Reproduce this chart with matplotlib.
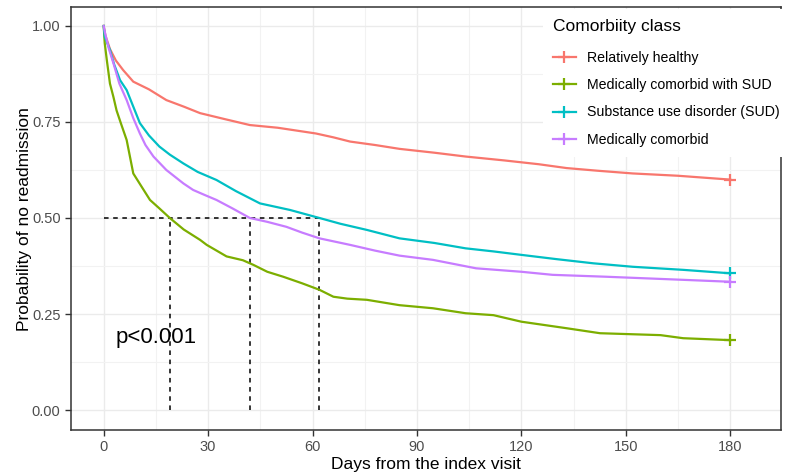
import numpy as np
import matplotlib
matplotlib.use("Agg")
import matplotlib.pyplot as plt
from matplotlib.lines import Line2D

plt.rcParams['font.family'] = ['Liberation Sans', 'DejaVu Sans']

# survival curves (days, probability of no readmission)
healthy_days = [0, 0.5, 1.8, 3.5, 5.6, 8.5, 13, 18, 23, 27.7, 35, 42, 50, 61, 66, 70.8, 78, 85, 95, 104, 115, 125, 133, 142, 152, 165, 180]
healthy_surv = [1.0, 0.975, 0.94, 0.91, 0.885, 0.855, 0.835, 0.807, 0.79, 0.773, 0.757, 0.742, 0.735, 0.72, 0.71, 0.699, 0.69, 0.68, 0.67, 0.66, 0.65, 0.64, 0.63, 0.623, 0.616, 0.61, 0.60]

medsud_days = [0, 0.3, 0.9, 1.8, 2.8, 3.7, 5, 6.6, 8.5, 11, 13.3, 16, 19, 23, 27.7, 29.6, 35.3, 40, 43, 47, 51.6, 57, 62, 66, 70, 75.6, 85, 94.6, 104, 112, 120, 133, 142.6, 160, 166.5, 180]
medsud_surv = [1.0, 0.955, 0.911, 0.85, 0.815, 0.78, 0.745, 0.703, 0.616, 0.58, 0.547, 0.525, 0.50, 0.47, 0.443, 0.43, 0.40, 0.39, 0.378, 0.36, 0.347, 0.33, 0.313, 0.295, 0.29, 0.287, 0.273, 0.265, 0.252, 0.247, 0.23, 0.213, 0.20, 0.195, 0.187, 0.182]

sud_days = [0, 0.3, 1.8, 3, 4.7, 6.6, 8.5, 10.4, 13, 16, 19, 22.9, 27, 32.4, 38, 44.9, 53.5, 62, 68, 75.6, 85, 95, 104, 112, 120, 130, 140.7, 152, 166.5, 180]
sud_surv = [1.0, 0.972, 0.9375, 0.9, 0.859, 0.833, 0.79, 0.747, 0.715, 0.686, 0.665, 0.642, 0.62, 0.599, 0.57, 0.538, 0.521, 0.50, 0.485, 0.469, 0.447, 0.435, 0.421, 0.413, 0.404, 0.393, 0.382, 0.373, 0.365, 0.356]

med_days = [0, 0.4, 1.5, 2.8, 4.5, 6.6, 8.5, 10.4, 12, 14.3, 18, 22.9, 25.7, 29, 32.4, 37, 42, 47, 52.5, 57, 62, 70.8, 78, 85, 94.6, 107, 120, 129, 144.5, 166.5, 180]
med_surv = [1.0, 0.981, 0.94, 0.903, 0.85, 0.807, 0.76, 0.72, 0.69, 0.66, 0.625, 0.59, 0.573, 0.56, 0.547, 0.525, 0.50, 0.49, 0.477, 0.462, 0.447, 0.43, 0.415, 0.402, 0.391, 0.369, 0.36, 0.352, 0.347, 0.339, 0.334]

labels = ["Relatively healthy", "Medically comorbid with SUD",
          "Substance use disorder (SUD)", "Medically comorbid"]
colors = ["#F8766D", "#7CAE00", "#00BFC4", "#C77CFF"]
median_days = [19, 42, 62]

fig = plt.figure(figsize=(7.86, 4.73), dpi=100)
ax = fig.add_axes([0.0903, 0.0909, 0.9033, 0.894])

curves = [(healthy_days, healthy_surv), (medsud_days, medsud_surv),
          (sud_days, sud_surv), (med_days, med_surv)]
for (d, s), c in zip(curves, colors):
    ax.plot(d, s, color=c, lw=1.6, zorder=3)
    ax.plot(d[-1], s[-1], marker='+', ms=9, mew=1.6, color=c, zorder=4)

# median survival lines
ax.plot([0, max(median_days)], [0.5, 0.5], ls=(0, (3, 3)), color='black', lw=1.1, zorder=2)
for m in median_days:
    ax.plot([m, m], [0, 0.5], ls=(0, (3, 3)), color='black', lw=1.1, zorder=2)

ax.text(3.5, 0.19, "p<0.001", fontsize=16, va='center', ha='left')

ax.set_xlim(-9.4, 194.6)
ax.set_ylim(-0.052, 1.049)
ax.set_xticks([0, 30, 60, 90, 120, 150, 180])
ax.set_xticks([15, 45, 75, 105, 135, 165], minor=True)
ax.set_yticks([0, 0.25, 0.5, 0.75, 1.0])
ax.set_yticklabels(["0.00", "0.25", "0.50", "0.75", "1.00"])
ax.set_yticks([0.125, 0.375, 0.625, 0.875], minor=True)
ax.grid(which='major', color='#EBEBEB', lw=1.0, zorder=0)
ax.grid(which='minor', color='#F2F2F2', lw=0.8, zorder=0)
ax.set_axisbelow(True)
ax.tick_params(which='major', length=4, width=1, color='#333333', labelcolor='#4D4D4D', labelsize=10.5)
ax.tick_params(which='minor', length=0)
for sp in ax.spines.values():
    sp.set_color('#333333')
    sp.set_linewidth(1.1)

ax.set_xlabel("Days from the index visit", fontsize=12.5, labelpad=2)
ax.set_ylabel("Probability of no readmission", fontsize=12.5, labelpad=0)

handles = [Line2D([0], [0], color=c, lw=1.6, marker='+', ms=9, mew=1.6) for c in colors]
leg = fig.legend(handles, labels, title="Comorbiity class", loc='upper left',
                 bbox_to_anchor=(543 / 786, 1 - 9 / 473), frameon=True, fontsize=10.2,
                 title_fontsize=12.5, handlelength=1.6, handletextpad=0.8,
                 labelspacing=0.95, borderpad=0.7, borderaxespad=0)
leg._legend_box.align = "left"
leg._legend_box.sep = 12
leg.get_frame().set_facecolor('white')
leg.get_frame().set_edgecolor('none')
leg.get_frame().set_alpha(1)
leg.set_zorder(10)

fig.savefig("out.png", dpi=100)
